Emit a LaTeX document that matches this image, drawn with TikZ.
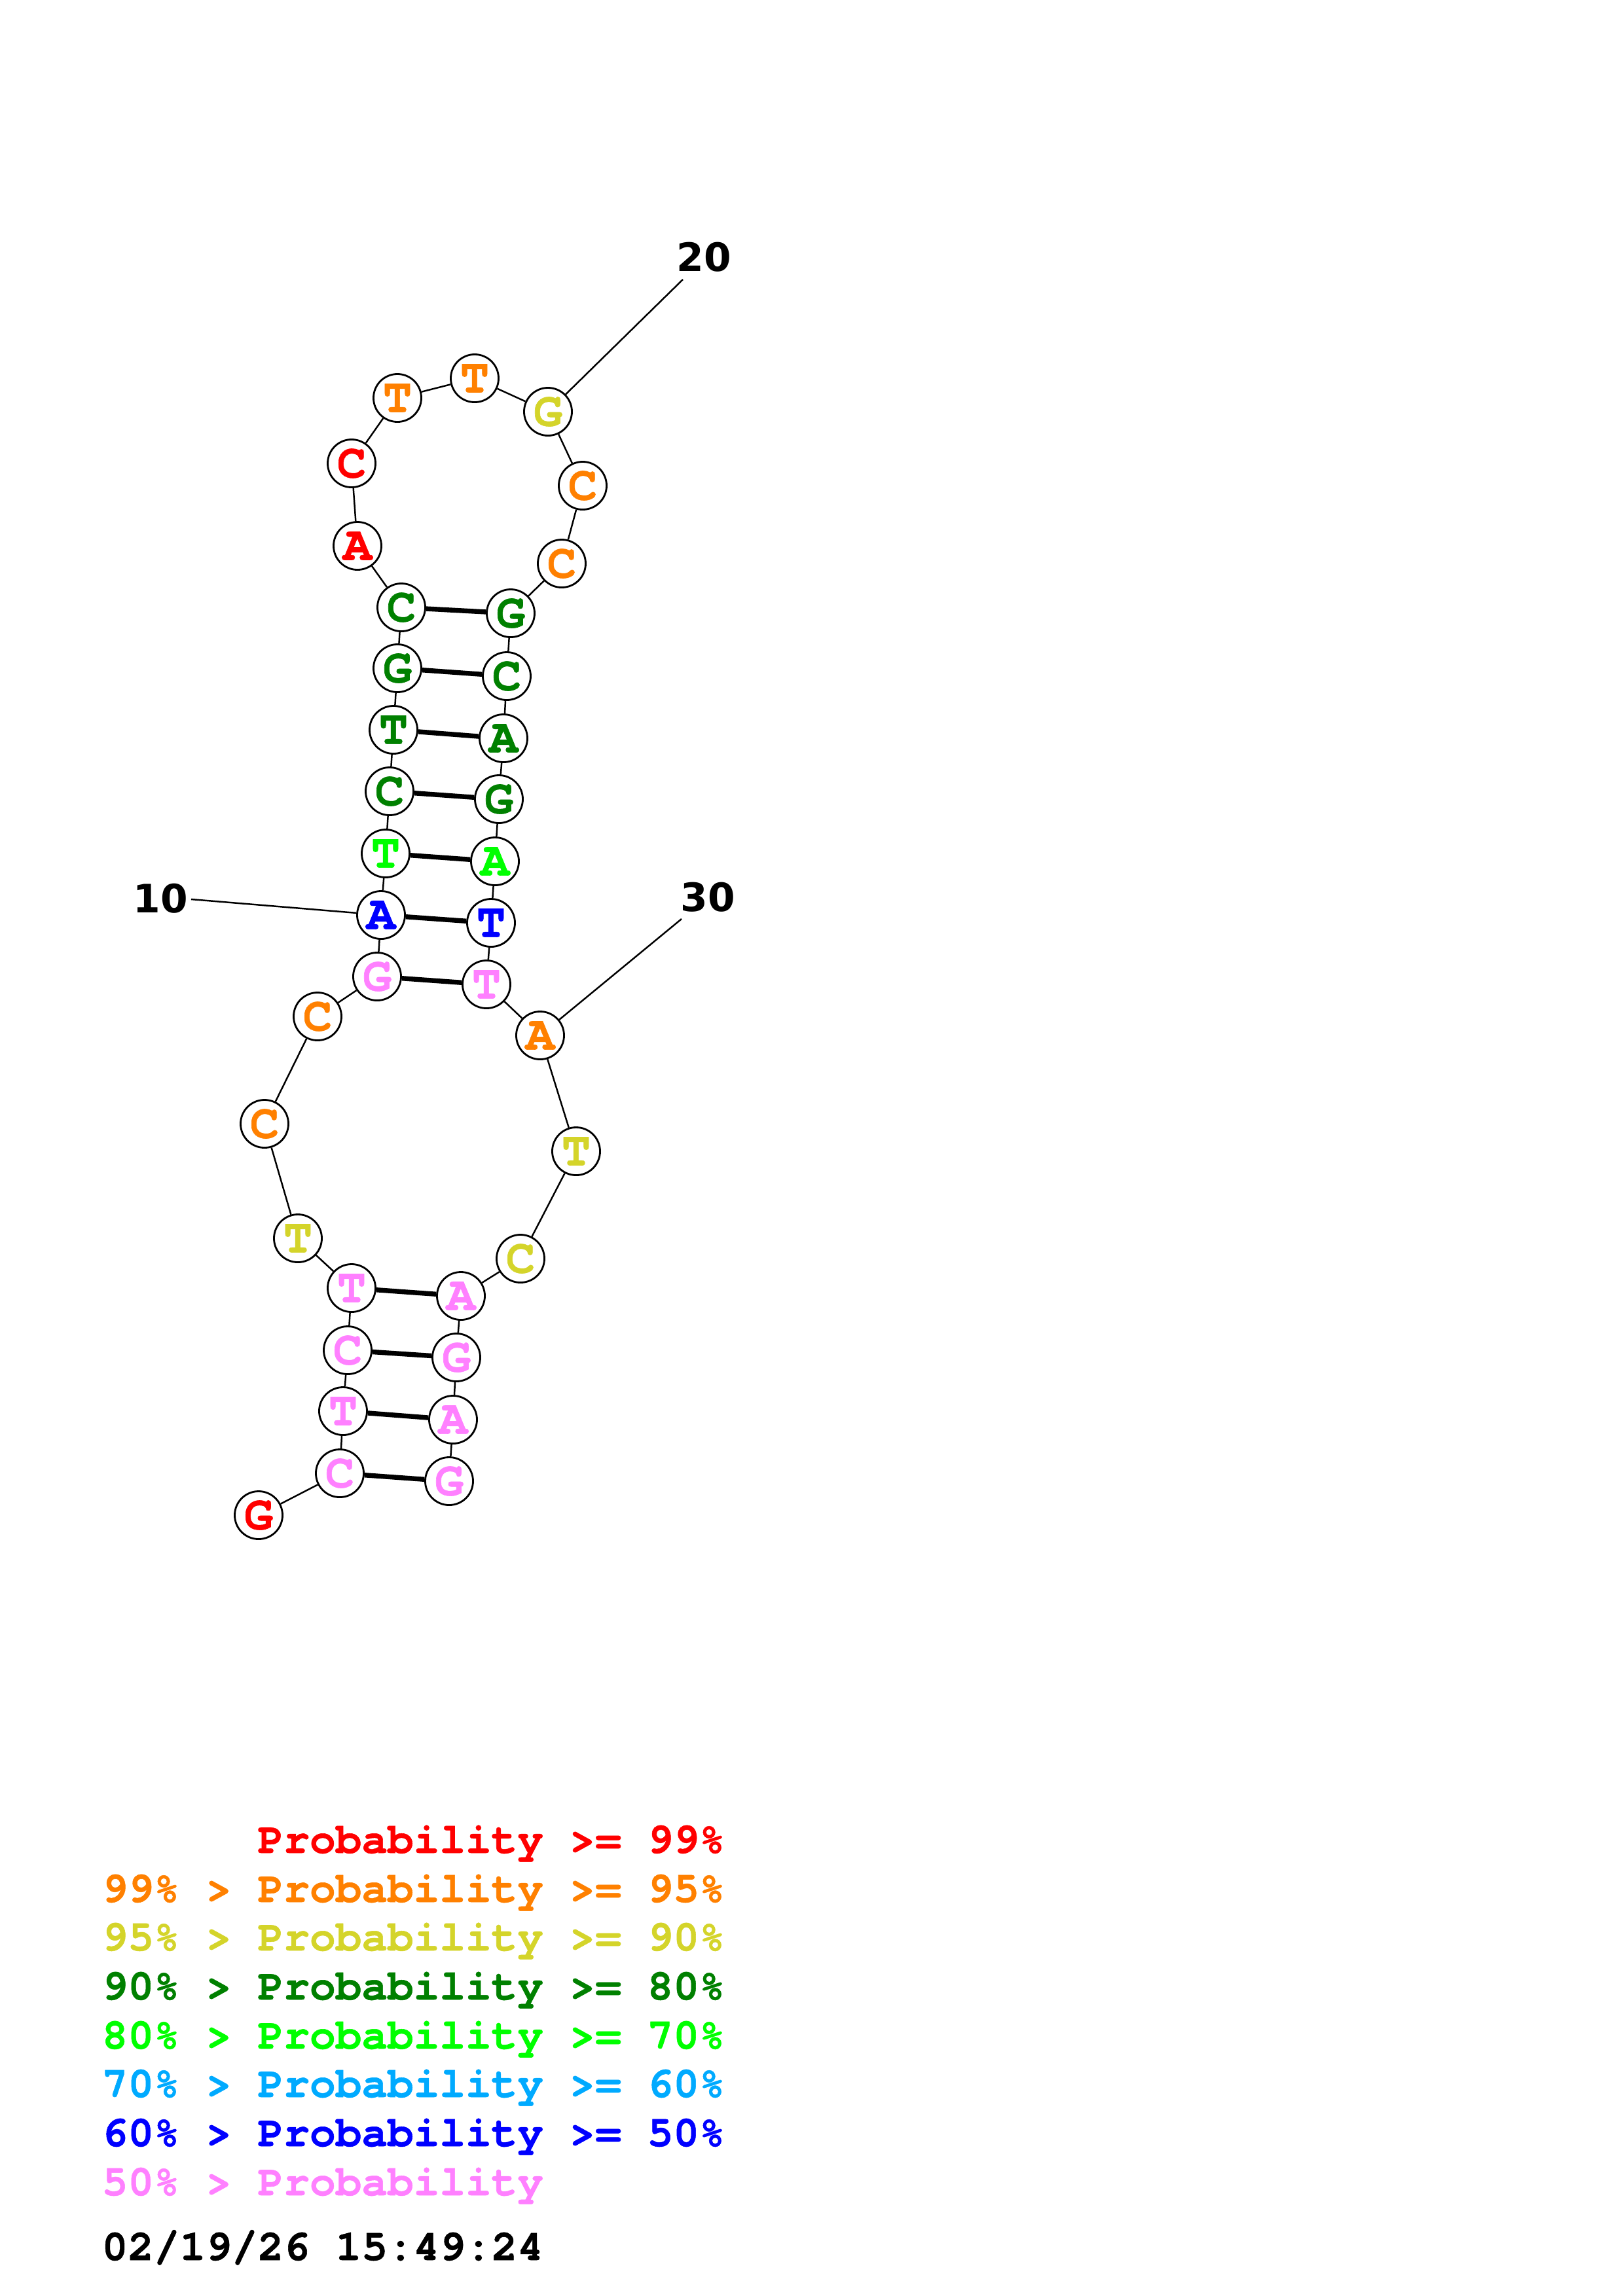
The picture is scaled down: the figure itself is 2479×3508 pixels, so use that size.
\documentclass[tikz,border=0pt]{standalone}
\usepackage{fontspec}
\newfontfamily\lmono{TeX Gyre Cursor}[BoldFeatures={FakeBold=0.8}]
\newfontfamily\dvs{DejaVu Sans}
\definecolor{pr}{RGB}{255,0,0}
\definecolor{po}{RGB}{255,128,0}
\definecolor{py}{RGB}{212,212,42}
\definecolor{pg}{RGB}{0,128,0}
\definecolor{pl}{RGB}{0,255,0}
\definecolor{pc}{RGB}{0,170,255}
\definecolor{pb}{RGB}{0,0,255}
\definecolor{pp}{RGB}{255,128,255}
\tikzset{
  nt/.style={circle,draw=black,fill=white,line width=0.8pt,inner sep=0pt,minimum size=0.73cm,font=\lmono\bfseries\fontsize{21}{21}\selectfont},
  backbone/.style={line width=0.7pt},
  bond/.style={line width=2.1pt},
  numlbl/.style={font=\dvs\bfseries\fontsize{17}{17}\selectfont},
  leg/.style={anchor=base west,inner sep=0pt,font=\lmono\bfseries\fontsize{18.8}{18.8}\selectfont}
}
\begin{document}
\begin{tikzpicture}[x=0.01cm,y=-0.01cm]
\useasboundingbox (0,0) rectangle (2479,3508);
% nucleotides
\node[nt,text=pr] (n1) at (395,2315) {G};
\node[nt,text=pp] (n2) at (519,2251) {C};
\node[nt,text=pp] (n3) at (524,2156) {T};
\node[nt,text=pp] (n4) at (531,2063) {C};
\node[nt,text=pp] (n5) at (537,1968) {T};
\node[nt,text=py] (n6) at (455,1892) {T};
\node[nt,text=po] (n7) at (404,1717) {C};
\node[nt,text=po] (n8) at (485,1553) {C};
\node[nt,text=pp] (n9) at (576,1492) {G};
\node[nt,text=pb] (n10) at (582,1398) {A};
\node[nt,text=pl] (n11) at (589,1304) {T};
\node[nt,text=pg] (n12) at (595,1209) {C};
\node[nt,text=pg] (n13) at (601,1115) {T};
\node[nt,text=pg] (n14) at (607,1021) {G};
\node[nt,text=pg] (n15) at (613,928) {C};
\node[nt,text=pr] (n16) at (546,834) {A};
\node[nt,text=pr] (n17) at (537,708) {C};
\node[nt,text=po] (n18) at (607,608) {T};
\node[nt,text=po] (n19) at (725,578) {T};
\node[nt,text=py] (n20) at (837,629) {G};
\node[nt,text=po] (n21) at (890,742) {C};
\node[nt,text=po] (n22) at (858,861) {C};
\node[nt,text=pg] (n23) at (780,937) {G};
\node[nt,text=pg] (n24) at (774,1033) {C};
\node[nt,text=pg] (n25) at (769,1128) {A};
\node[nt,text=pg] (n26) at (762,1221) {G};
\node[nt,text=pl] (n27) at (756,1316) {A};
\node[nt,text=pb] (n28) at (750,1410) {T};
\node[nt,text=pp] (n29) at (743,1504) {T};
\node[nt,text=po] (n30) at (825,1582) {A};
\node[nt,text=py] (n31) at (880,1759) {T};
\node[nt,text=py] (n32) at (795,1923) {C};
\node[nt,text=pp] (n33) at (704,1980) {A};
\node[nt,text=pp] (n34) at (697,2074) {G};
\node[nt,text=pp] (n35) at (692,2169) {A};
\node[nt,text=pp] (n36) at (686,2263) {G};
% backbone
\foreach \i [evaluate=\i as \j using int(\i+1)] in {1,...,35}
  \draw[backbone] (n\i) -- (n\j);
% base pairs
\foreach \a/\b in {2/36,3/35,4/34,5/33,9/29,10/28,11/27,12/26,13/25,14/24,15/23}
  \draw[bond] (n\a) -- (n\b);
% position labels
\node[numlbl] (l10) at (245,1373) {10};
\node[numlbl] (l20) at (1075,393) {20};
\node[numlbl] (l30) at (1081,1371) {30};
\coordinate (e10) at (292,1374);
\coordinate (e20) at (1043,427);
\coordinate (e30) at (1041,1404);
\draw[backbone] (e10) -- (n10);
\draw[backbone] (e20) -- (n20);
\draw[backbone] (e30) -- (n30);
% legend
\node[leg,text=pr] (g1) at (155,2831) {\phantom{99\% > }Probability >= 99\%};
\node[leg,text=po] (g2) at (155,2906) {99\% > Probability >= 95\%};
\node[leg,text=py] (g3) at (155,2980) {95\% > Probability >= 90\%};
\node[leg,text=pg] (g4) at (155,3055) {90\% > Probability >= 80\%};
\node[leg,text=pl] (g5) at (155,3130) {80\% > Probability >= 70\%};
\node[leg,text=pc] (g6) at (155,3204) {70\% > Probability >= 60\%};
\node[leg,text=pb] (g7) at (155,3279) {60\% > Probability >= 50\%};
\node[leg,text=pp] (g8) at (155,3354) {50\% > Probability};
\node[leg,text=black] (dt) at (155,3453) {02/19/26 15:49:24};
\end{tikzpicture}
\end{document}
